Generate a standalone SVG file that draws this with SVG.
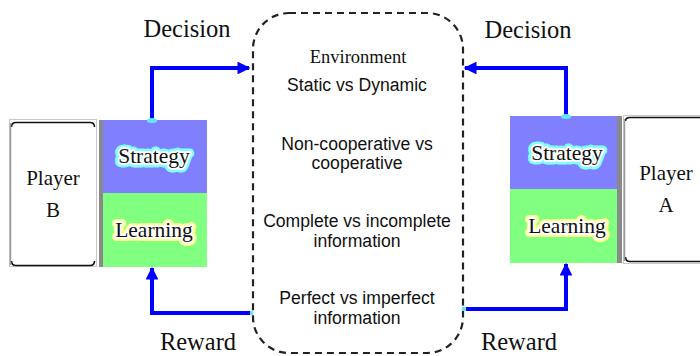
<svg xmlns="http://www.w3.org/2000/svg" width="700" height="356" viewBox="0 0 700 356">
<defs>
<style>
.serif{font-family:"Liberation Serif","Times New Roman",serif;fill:#111}
.sans{font-family:"Liberation Sans",Arial,sans-serif;fill:#111;font-size:17.6px}
.lbl{font-size:24.5px}
.ply{font-size:21px}
.blk{font-size:21.5px}
.glowC{stroke:#7fffff;stroke-width:9;stroke-linejoin:round;paint-order:stroke}
.glowY{stroke:#ffff90;stroke-width:8;stroke-linejoin:round;paint-order:stroke}
.inner{stroke:#ffffff;stroke-width:4;stroke-linejoin:round;paint-order:stroke}
.conn{fill:none;stroke:#0000ff;stroke-width:4}
.strat{fill:#8080ff}
.learn{fill:#80ff80}
.bar{fill:#8a8a8a}
.pbox{fill:#fff;stroke:#c8c8c8;stroke-width:1}
.pcorner{fill:none;stroke:#111;stroke-width:1.6}
.cyan{fill:#5fe8ff}
</style>
<marker id="ah" viewBox="0 0 10 10" refX="9" refY="5" markerWidth="3.2" markerHeight="3.2" orient="auto" markerUnits="strokeWidth">
<path d="M0,0 L10,5 L0,10 z" fill="#0000ff"/>
</marker>
</defs>
<rect width="700" height="356" fill="#fff"/>

<g id="environment">
<rect x="253" y="13" width="210" height="340" rx="36" ry="36" fill="none" stroke="#222" stroke-width="2.2" stroke-dasharray="7,5"/>
<text class="serif" x="358" y="63" font-size="18.5" text-anchor="middle">Environment</text>
<g class="sans" text-anchor="middle">
<text x="357" y="91">Static vs Dynamic</text>
<text x="357" y="150">Non-cooperative vs</text>
<text x="357" y="169">cooperative</text>
<text x="357" y="227">Complete vs incomplete</text>
<text x="357" y="247">information</text>
<text x="357" y="304">Perfect vs imperfect</text>
<text x="357" y="324">information</text>
</g>
</g>

<g id="playerB">
<rect class="pbox" x="9.5" y="119.5" width="87" height="147"/>
<path class="pcorner" d="M11.5,127 Q11.5,122.5 16,122.5 L90,122.5 Q94.5,122.5 94.5,127"/>
<path class="pcorner" d="M11.5,261 Q11.5,265.5 16,265.5 L90,265.5 Q94.5,265.5 94.5,261"/>
<line x1="10.5" y1="123" x2="10.5" y2="265" stroke="#999" stroke-width="1.5"/>
<text class="serif ply" x="53" y="185" text-anchor="middle">Player</text>
<text class="serif ply" x="53" y="217" text-anchor="middle">B</text>
</g>

<g id="agentB">
<rect class="bar" x="99" y="120" width="4" height="147"/>
<rect class="strat" x="103" y="120" width="104" height="73"/>
<rect class="learn" x="103" y="193" width="104" height="74"/>
<text class="serif blk glowC" x="154" y="163" text-anchor="middle">Strategy</text>
<text class="serif blk inner" x="154" y="163" text-anchor="middle">Strategy</text>
<text class="serif blk glowY" x="154" y="237" text-anchor="middle">Learning</text>
<text class="serif blk inner" x="154" y="237" text-anchor="middle">Learning</text>
</g>

<g id="agentA">
<rect class="strat" x="510" y="116" width="107" height="73"/>
<rect class="learn" x="510" y="189" width="107" height="74"/>
<rect class="bar" x="617" y="116" width="5" height="147"/>
<text class="serif blk glowC" x="567" y="160" text-anchor="middle">Strategy</text>
<text class="serif blk inner" x="567" y="160" text-anchor="middle">Strategy</text>
<text class="serif blk glowY" x="567" y="233" text-anchor="middle">Learning</text>
<text class="serif blk inner" x="567" y="233" text-anchor="middle">Learning</text>
</g>

<g id="playerA">
<rect class="pbox" x="623.5" y="115.5" width="90" height="148"/>
<path class="pcorner" d="M625.5,121 Q625.5,117.5 630,117.5 L705,117.5"/>
<path class="pcorner" d="M625.5,257 Q625.5,261.5 630,261.5 L705,261.5"/>
<line x1="624.5" y1="119" x2="624.5" y2="261" stroke="#999" stroke-width="1.5"/>
<text class="serif ply" x="666" y="180" text-anchor="middle">Player</text>
<text class="serif ply" x="666" y="212" text-anchor="middle">A</text>
</g>

<g id="connectors">
<path class="conn" d="M152,120 L152,68 L249,68" marker-end="url(#ah)"/>
<path class="conn" d="M566,116 L566,68 L465,68" marker-end="url(#ah)"/>
<path class="conn" d="M252,313 L152,313 L152,268" marker-end="url(#ah)"/>
<path class="conn" d="M464,309 L566,309 L566,264" marker-end="url(#ah)"/>
<ellipse class="cyan" cx="152" cy="120.5" rx="5" ry="2.5"/>
<ellipse class="cyan" cx="566" cy="116.5" rx="5" ry="2.5"/>
<rect class="cyan" x="462" y="307" width="4" height="4"/>
<rect class="cyan" x="250" y="311" width="3" height="4"/>
</g>

<g id="labels">
<text class="serif lbl" x="187" y="37" text-anchor="middle">Decision</text>
<text class="serif lbl" x="528" y="38" text-anchor="middle">Decision</text>
<text class="serif lbl" x="198" y="350" text-anchor="middle">Reward</text>
<text class="serif lbl" x="519" y="350" text-anchor="middle">Reward</text>
</g>
</svg>
